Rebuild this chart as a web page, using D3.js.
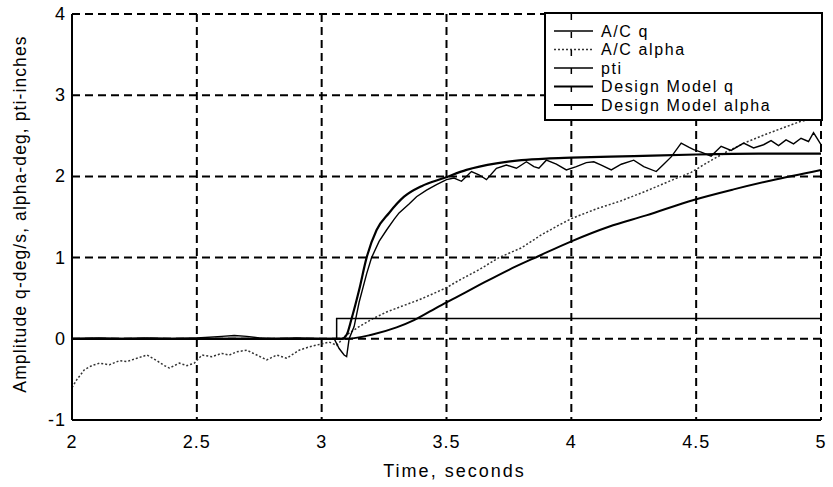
<!DOCTYPE html>
<html><head><meta charset="utf-8">
<script src="https://cdn.jsdelivr.net/npm/d3@7"></script>
<style>
html,body{margin:0;padding:0;background:#fff;}
text{font-family:"Liberation Sans",Arial,sans-serif;fill:#000;}
</style></head>
<body><svg id="c" width="833" height="487"></svg>
<script>
// ---- data ----
const xTicks = [2, 2.5, 3, 3.5, 4, 4.5, 5];
const xTickLabels = ["2", "2.5", "3", "3.5", "4", "4.5", "5"];
const yTicks = [-1, 0, 1, 2, 3, 4];
const yTickLabels = ["-1", "0", "1", "2", "3", "4"];
const seriesNames = ["A/C q", "A/C alpha", "pti", "Design Model q", "Design Model alpha"];

const acQ_t = [2.00,2.1,2.2,2.3,2.4,2.5,2.6,2.65,2.7,2.75,2.8,2.9,3.0,3.05,3.07,3.09,3.1,3.11,3.13,3.15,3.18,3.2,3.23,3.26,3.29,3.31,3.35,3.38,3.42,3.46,3.5,3.53,3.56,3.6,3.63,3.66,3.7,3.74,3.78,3.82,3.85,3.87,3.9,3.94,3.98,4.02,4.06,4.09,4.12,4.16,4.2,4.25,4.29,4.34,4.37,4.4,4.44,4.47,4.49,4.52,4.56,4.6,4.64,4.69,4.73,4.77,4.8,4.83,4.86,4.89,4.92,4.95,4.97,5.0];
const acQ_v = [0.0,0.01,0.0,0.01,0.0,0.01,0.03,0.04,0.03,0.01,0.0,0.01,0.0,0.0,-0.12,-0.2,-0.22,0.0,0.15,0.45,0.8,1.0,1.2,1.34,1.47,1.55,1.66,1.75,1.83,1.9,1.96,1.98,1.94,2.06,2.02,1.96,2.1,2.14,2.1,2.18,2.12,2.1,2.2,2.15,2.08,2.12,2.17,2.18,2.14,2.08,2.15,2.2,2.12,2.06,2.15,2.24,2.41,2.36,2.33,2.3,2.25,2.37,2.32,2.41,2.35,2.39,2.44,2.38,2.45,2.4,2.47,2.43,2.54,2.39];

const acA_t = [2.0,2.02,2.05,2.08,2.11,2.15,2.19,2.22,2.26,2.3,2.34,2.37,2.39,2.43,2.46,2.49,2.52,2.56,2.6,2.63,2.66,2.7,2.74,2.78,2.82,2.86,2.89,2.91,2.95,2.99,3.03,3.06,3.09,3.11,3.15,3.2,3.26,3.32,3.39,3.45,3.5,3.55,3.63,3.71,3.8,3.88,3.95,4.0,4.1,4.2,4.3,4.4,4.48,4.55,4.62,4.7,4.78,4.85,4.92,5.0];
const acA_v = [-0.6,-0.5,-0.38,-0.33,-0.3,-0.32,-0.27,-0.28,-0.24,-0.2,-0.27,-0.33,-0.36,-0.3,-0.33,-0.3,-0.2,-0.22,-0.18,-0.2,-0.16,-0.14,-0.2,-0.26,-0.2,-0.24,-0.18,-0.14,-0.1,-0.07,-0.04,-0.08,0.02,0.07,0.15,0.24,0.33,0.4,0.48,0.56,0.63,0.72,0.85,1.0,1.12,1.28,1.4,1.48,1.6,1.7,1.82,1.95,2.05,2.18,2.3,2.42,2.52,2.6,2.68,2.72];

const pti_t = [2.0, 3.06, 3.06, 5.0];
const pti_v = [0, 0, 0.25, 0.25];

const dmQ_t = [2,3.08,3.1,3.12,3.15,3.18,3.22,3.27,3.33,3.4,3.49,3.58,3.7,3.8,3.9,4.0,4.25,4.5,4.75,5.0];
const dmQ_v = [0,0,0.05,0.25,0.6,1.0,1.34,1.55,1.75,1.88,1.98,2.08,2.16,2.2,2.22,2.23,2.25,2.27,2.28,2.28];

const dmA_t = [2,3.1,3.2,3.3,3.37,3.47,3.55,3.63,3.75,3.87,4.0,4.15,4.3,4.49,4.65,4.8,5.0];
const dmA_v = [0,0,0.05,0.14,0.23,0.4,0.53,0.66,0.85,1.02,1.2,1.38,1.52,1.71,1.84,1.95,2.08];

// ---- layout ----
const L = 72, R = 821, T = 14, B = 420;
const svg = d3.select("#c");
const x = d3.scaleLinear().domain([2, 5]).range([L, R]);
const y = d3.scaleLinear().domain([-1, 4]).range([B, T]);

// grid
const g = svg.append("g");
g.selectAll(".gx").data(xTicks.slice(1, -1)).enter().append("line")
  .attr("x1", d => x(d)).attr("x2", d => x(d)).attr("y1", T).attr("y2", B)
  .attr("stroke", "#000").attr("stroke-width", 2).attr("stroke-dasharray", "8,5");
g.selectAll(".gy").data(yTicks.slice(1, -1)).enter().append("line")
  .attr("y1", d => y(d)).attr("y2", d => y(d)).attr("x1", L).attr("x2", R)
  .attr("stroke", "#000").attr("stroke-width", 2).attr("stroke-dasharray", "8,5");
g.append("line").attr("x1", L).attr("x2", R).attr("y1", y(4)).attr("y2", y(4))
  .attr("stroke", "#000").attr("stroke-width", 2).attr("stroke-dasharray", "8,5");
g.append("line").attr("x1", R).attr("x2", R).attr("y1", T).attr("y2", B)
  .attr("stroke", "#000").attr("stroke-width", 2).attr("stroke-dasharray", "8,5");

// series
function mk(ts, vs) { return ts.map((t, i) => [t, vs[i]]); }
const lineLin = d3.line().x(d => x(d[0])).y(d => y(d[1]));
const lineSm = d3.line().x(d => x(d[0])).y(d => y(d[1])).curve(d3.curveMonotoneX);

svg.append("path").datum(mk(acA_t, acA_v)).attr("d", lineLin)
  .attr("fill", "none").attr("stroke", "#333").attr("stroke-width", 1.5).attr("stroke-dasharray", "2,2");
svg.append("path").datum(mk(pti_t, pti_v)).attr("d", lineLin)
  .attr("fill", "none").attr("stroke", "#000").attr("stroke-width", 1.5);
svg.append("path").datum(mk(dmA_t, dmA_v)).attr("d", lineSm)
  .attr("fill", "none").attr("stroke", "#000").attr("stroke-width", 2);
svg.append("path").datum(mk(dmQ_t, dmQ_v)).attr("d", lineSm)
  .attr("fill", "none").attr("stroke", "#000").attr("stroke-width", 2.2);
svg.append("path").datum(mk(acQ_t, acQ_v)).attr("d", lineLin)
  .attr("fill", "none").attr("stroke", "#000").attr("stroke-width", 1.4);

// axes box (left & bottom solid)
svg.append("line").attr("x1", L).attr("x2", L).attr("y1", T).attr("y2", B).attr("stroke", "#000").attr("stroke-width", 2);
svg.append("line").attr("x1", L).attr("x2", R).attr("y1", B).attr("y2", B).attr("stroke", "#000").attr("stroke-width", 2);

// tick labels
const font = 18;
svg.selectAll(".xt").data(xTicks).enter().append("text")
  .attr("x", d => x(d)).attr("y", B + 28).attr("text-anchor", "middle")
  .attr("font-size", font).attr("letter-spacing", 1).text((d, i) => xTickLabels[i]);
svg.selectAll(".yt").data(yTicks).enter().append("text")
  .attr("x", L - 6).attr("y", d => y(d) + 6).attr("text-anchor", "end")
  .attr("font-size", font).attr("letter-spacing", 1).text((d, i) => yTickLabels[i]);

svg.append("text").attr("x", (L + R) / 2 + 8).attr("y", 477).attr("text-anchor", "middle")
  .attr("font-size", font).attr("letter-spacing", 2).text("Time, seconds");
svg.append("text").attr("transform", "translate(26,214) rotate(-90)").attr("text-anchor", "middle")
  .attr("font-size", 17.5).attr("letter-spacing", 1.1).text("Amplitude  q-deg/s, alpha-deg, pti-inches");

// legend
const lg = svg.append("g");
lg.append("rect").attr("x", 545).attr("y", 13).attr("width", 277).attr("height", 107)
  .attr("fill", "#fff").attr("stroke", "#000").attr("stroke-width", 2);
const rowY = [31, 49.5, 68, 86.5, 105];
const styles = [
  {w: 1.4, dash: null, c: "#000"},
  {w: 1.5, dash: "2,2", c: "#333"},
  {w: 1.5, dash: null, c: "#000"},
  {w: 2.2, dash: null, c: "#000"},
  {w: 2, dash: null, c: "#000"}
];
seriesNames.forEach((n, i) => {
  const l = lg.append("line").attr("x1", 554).attr("x2", 593).attr("y1", rowY[i]).attr("y2", rowY[i])
    .attr("stroke", styles[i].c).attr("stroke-width", styles[i].w);
  if (styles[i].dash) l.attr("stroke-dasharray", styles[i].dash);
  lg.append("text").attr("x", 601).attr("y", rowY[i] + 5.5).attr("font-size", 16).attr("letter-spacing", 1.6)
    .text(n);
});
lg.append("line").attr("x1", x(4)).attr("x2", x(4)).attr("y1", 14).attr("y2", 119)
  .attr("stroke", "#000").attr("stroke-width", 1.5).attr("stroke-dasharray", "6,12");
</script></body></html>
